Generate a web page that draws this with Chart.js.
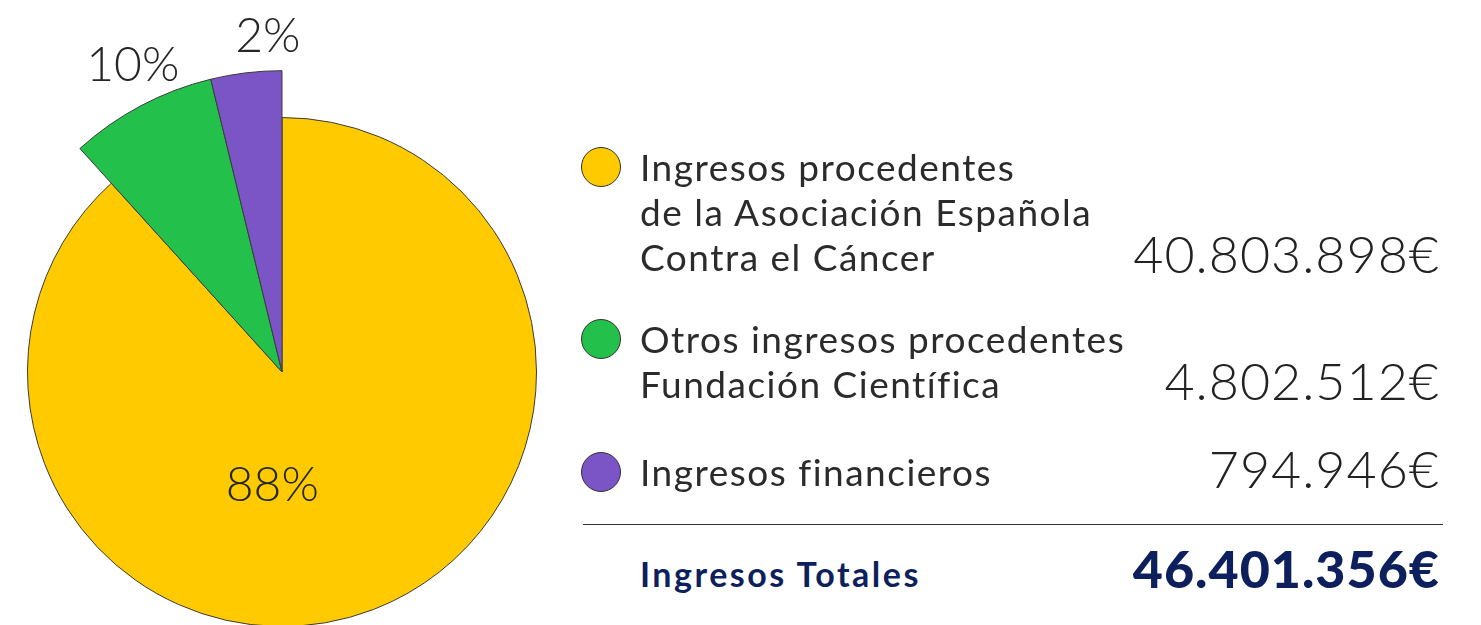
<!DOCTYPE html>
<html lang="es">
<head>
<meta charset="utf-8">
<script src="https://cdn.jsdelivr.net/npm/chart.js@4/dist/chart.umd.min.js"></script>
<style>
  html, body { margin: 0; padding: 0; background: #fff; overflow: hidden; }
  body { width: 1481px; height: 625px; position: relative; font-family: Lato, "Open Sans", sans-serif; }
  #pie { position: absolute; left: 0; top: 0; }
  .row { position: absolute; left: 581px; width: 859px; }
  .dot { position: absolute; left: 0; width: 38px; height: 38px; border-radius: 50%; border: 1px solid #333; }
  .label { position: absolute; left: 59px; font-size: 37px; line-height: 45px; letter-spacing: 1.5px; color: #2b2b2b; white-space: pre; }
  .amount { position: absolute; right: 0; bottom: -5px; font-size: 52px; font-weight: 300; letter-spacing: 1px; color: #222; white-space: nowrap; }
  .rule { position: absolute; left: 583px; width: 860px; top: 524px; border-top: 1px solid #333; }
  .total-label { position: absolute; left: 640px; top: 553px; font-size: 34px; font-weight: 700; letter-spacing: 2.5px; color: #0d1f5c; }
  .total-amount { position: absolute; right: 41px; top: 537px; font-size: 52px; font-weight: 900; letter-spacing: 1px; color: #0d1f5c; }
</style>
</head>
<body>
<canvas id="pie" width="600" height="700"></canvas>
<div id="legend"></div>

<script>
// categories and amounts as printed next to the chart
var categories = [
  "Ingresos procedentes\nde la Asociación Española\nContra el Cáncer",
  "Otros ingresos procedentes\nFundación Científica",
  "Ingresos financieros"
];
var amounts = ["40.803.898€", "4.802.512€", "794.946€"];
// slice shares as drawn in the picture
var sliceShare = [88.3, 7.9, 3.8];
var pctLabels = ["88%", "10%", "2%"];
var totalLabel = "Ingresos Totales";
var totalAmount = "46.401.356€";

var colors = ["#ffcb00", "#23c14b", "#7b55c6"];

/* LEYENDA */
var rowTops = [144, 316, 449];
var legend = document.getElementById("legend");
categories.forEach(function (cat, i) {
  var lines = cat.split("\n").length;
  var row = document.createElement("div");
  row.className = "row";
  row.style.top = rowTops[i] + "px";
  row.style.height = (lines * 45) + "px";
  row.innerHTML =
    '<div class="dot" style="top:3px;background:' + colors[i] + '"></div>' +
    '<div class="label">' + cat + '</div>' +
    '<div class="amount">' + amounts[i] + '</div>';
  legend.appendChild(row);
});
legend.insertAdjacentHTML("beforeend",
  '<div class="rule"></div>' +
  '<div class="total-label">' + totalLabel + '</div>' +
  '<div class="total-amount">' + totalAmount + '</div>');

/* GRÁFICO */
// green and purple slices are drawn with a longer radius
var longSlices = {
  id: "longSlices",
  afterDatasetsUpdate: function (chart, args, opts) {
    chart.getDatasetMeta(0).data.forEach(function (arc, i) {
      arc.outerRadius = arc.outerRadius * opts.scale[i];
    });
  }
};

var sliceLabels = {
  id: "sliceLabels",
  afterDraw: function (chart, args, opts) {
    var ctx = chart.ctx;
    var arcs = chart.getDatasetMeta(0).data;
    ctx.save();
    ctx.font = "300 48px Lato";
    ctx.fillStyle = "#262626";
    ctx.textAlign = "center";
    ctx.textBaseline = "middle";
    arcs.forEach(function (arc, i) {
      var p = opts.pos[i];
      var a = p.deg * Math.PI / 180;
      ctx.fillText(pctLabels[i], arc.x + p.r * Math.sin(a), arc.y - p.r * Math.cos(a) + 3);
    });
    ctx.restore();
  }
};

var chartGraph = new Chart(document.getElementById("pie"), {
  type: "pie",
  data: {
    labels: categories,
    datasets: [{
      data: sliceShare,
      backgroundColor: colors,
      borderColor: "#3a3a3a",
      borderWidth: 1
    }]
  },
  options: {
    responsive: false,
    animation: false,
    layout: { padding: { left: 27, top: 117, right: 63, bottom: 73 } },
    plugins: {
      legend: { display: false },
      tooltip: { enabled: false },
      longSlices: { scale: [1, 1.184, 1.184] },
      sliceLabels: { pos: [{ deg: 185, r: 111 }, { deg: 334.3, r: 344 }, { deg: 357.6, r: 339 }] }
    }
  },
  plugins: [longSlices, sliceLabels]
});
</script>
</body>
</html>
